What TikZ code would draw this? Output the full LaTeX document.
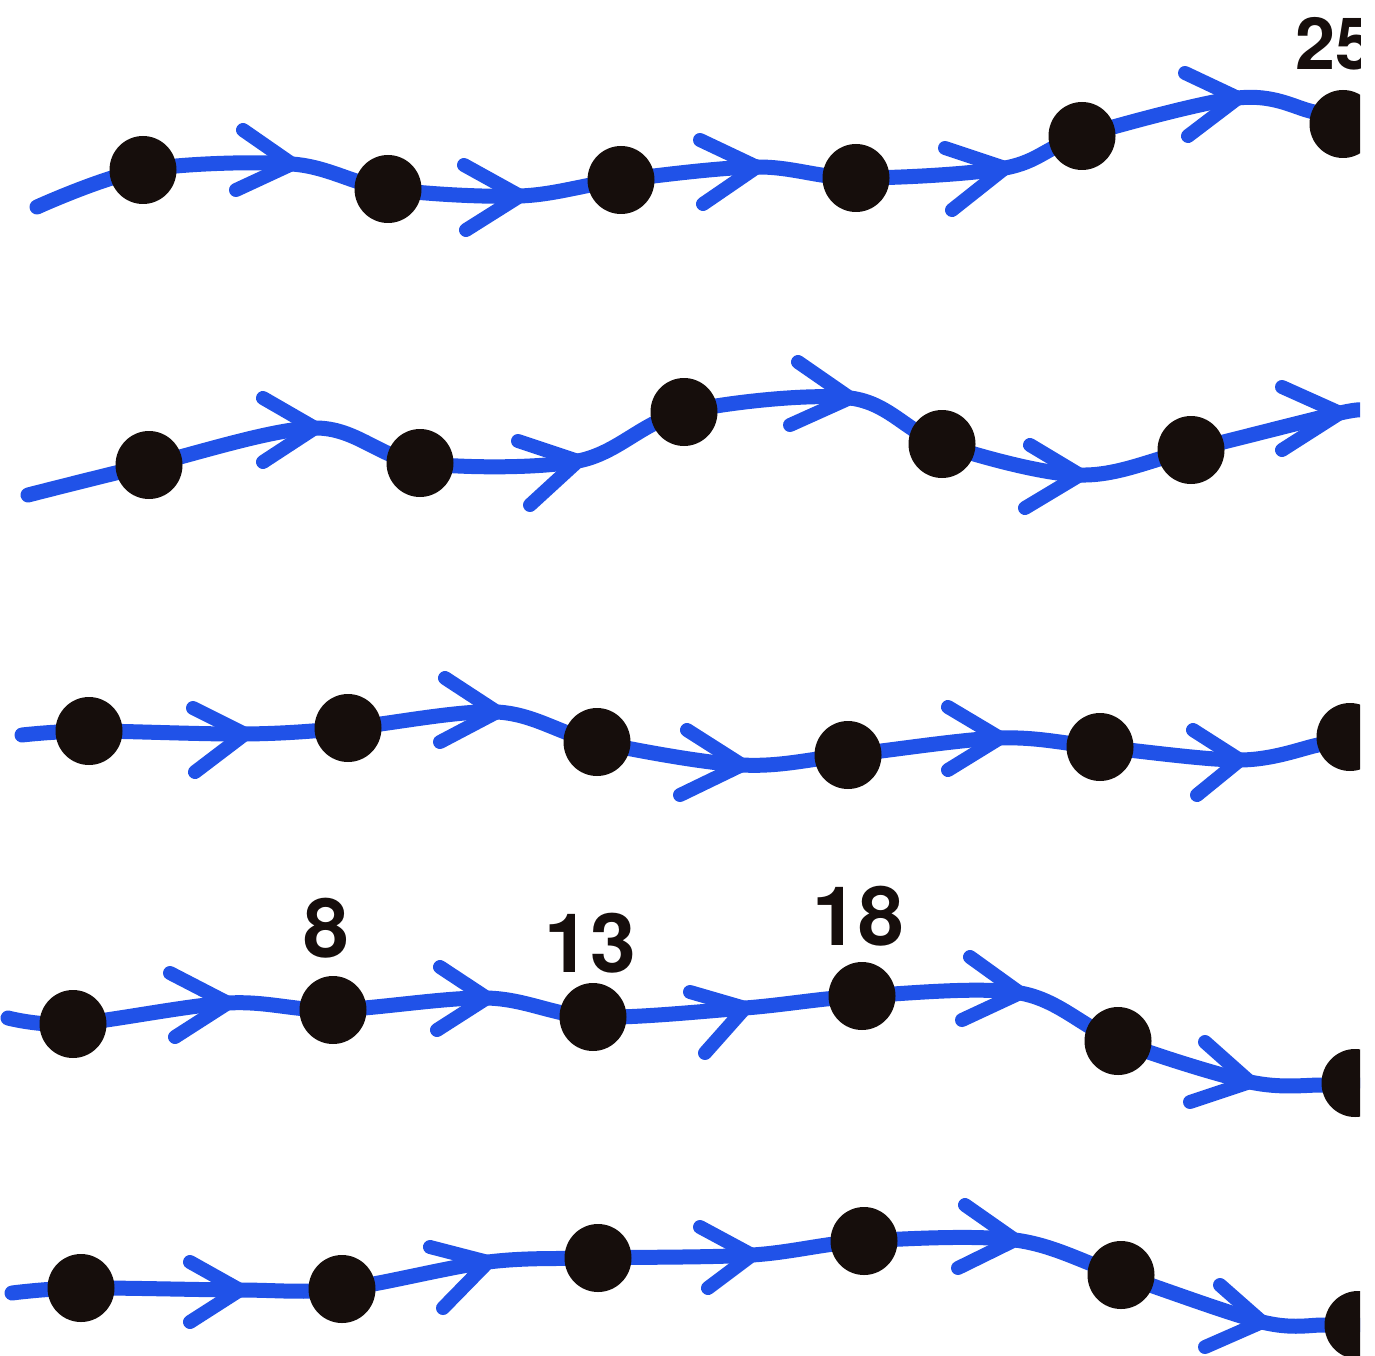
\documentclass[tikz,border=0pt]{standalone}
\usepackage{fontspec}
\setmainfont{TeX Gyre Heros}
\usetikzlibrary{shapes.geometric}
\definecolor{lineblue}{RGB}{32,82,232}
\definecolor{dotblack}{RGB}{22,14,12}
\tikzset{
  bline/.style={draw=lineblue, line width=15pt, line cap=round, line join=round},
  chevron/.style={draw=lineblue, line width=14pt, line cap=round, line join=round},
  dot/.style={ellipse, fill=dotblack, minimum width=67pt, minimum height=68pt, inner sep=0pt},
  lbl/.style={font=\fontsize{82}{82}\selectfont\bfseries, text=dotblack, inner sep=0pt},
  lblsmall/.style={font=\fontsize{72}{72}\selectfont\bfseries, text=dotblack, inner sep=0pt}
}
\begin{document}
\begin{tikzpicture}[x=1pt,y=-1pt]
\fill[white] (0,0) rectangle (1375,1356);
\useasboundingbox (0,0) rectangle (1375,1356);
\begin{scope}
\clip (0,0) rectangle (1360,1356);
% ---------- row 1 ----------
\coordinate (a0) at (37,207);
\coordinate (a1) at (143,170);
\coordinate (a2) at (388,189);
\coordinate (a3) at (621,180);
\coordinate (a4) at (856,178);
\coordinate (a5) at (1082,136);
\coordinate (a6e) at (1310,111);
\coordinate (a6) at (1343,124);
% ---------- row 2 ----------
\coordinate (b0) at (28,495);
\coordinate (b1) at (149,465);
\coordinate (b2) at (420,463);
\coordinate (b3) at (684,412);
\coordinate (b4) at (942,444);
\coordinate (b5) at (1191,450);
\coordinate (b6) at (1365,411);
% ---------- row 3 ----------
\coordinate (c0) at (22,735);
\coordinate (c1) at (89,731);
\coordinate (c2) at (348,728);
\coordinate (c3) at (597,742);
\coordinate (c4) at (848,755);
\coordinate (c5) at (1100,747);
\coordinate (c6e) at (1318,745);
\coordinate (c6) at (1350,737);
% ---------- row 4 ----------
\coordinate (d0) at (8,1018);
\coordinate (d1) at (73,1024);
\coordinate (d2) at (333,1010);
\coordinate (d3) at (593,1017);
\coordinate (d4) at (862,996);
\coordinate (d5) at (1118,1041);
\coordinate (d6e) at (1322,1085);
\coordinate (d6) at (1355,1083);
% ---------- row 5 ----------
\coordinate (e0) at (12,1293);
\coordinate (e1) at (81,1288);
\coordinate (e2) at (342,1289);
\coordinate (e3) at (598,1258);
\coordinate (e4) at (864,1241);
\coordinate (e5) at (1121,1275);
\coordinate (e6e) at (1325,1325);
\coordinate (e6) at (1358,1325);
% ---------- arrow chevrons: name/tip/upper arm/lower arm ----------
\foreach \n/\tx/\ty/\ux/\uy/\lx/\ly in {
  a1/292/164/243/130/236/190, a2/520/196/464/165/466/230, a3/757/167/700/140/703/204,
  a4/1005/168/945/148/952/210, a5/1238/98/1185/73/1188/136,
  b1/315/428/263/398/263/462, b2/578/461/518/441/530/505, b3/850/398/798/362/790/425,
  b4/1080/475/1030/445/1025/508, b5/1340/413/1282/387/1282/450,
  c1/245/734/193/708/195/772, c2/497/712/445/678/440/742, c3/742/765/687/730/680/795,
  c4/1000/738/948/707/948/770, c5/1240/760/1193/730/1197/795,
  d1/228/1003/170/973/175/1037, d2/487/998/440/967/437/1030, d3/745/1008/690/992/705/1053,
  d4/1020/993/970/957/962/1020, d5/1250/1082/1205/1042/1190/1102,
  e1/240/1290/190/1262/190/1322, e2/488/1262/430/1247/443/1308, e3/752/1255/700/1227/708/1288,
  e4/1015/1240/965/1205/958/1268, e5/1262/1322/1220/1285/1205/1347}
{
  \coordinate (t\n) at (\tx,\ty);
  \coordinate (u\n) at (\ux,\uy);
  \coordinate (l\n) at (\lx,\ly);
}
% ---------- lines ----------
\draw[bline] plot[smooth, tension=0.55] coordinates {(a0) (a1) (ta1) (a2) (ta2) (a3) (ta3) (a4) (ta4) (a5) (ta5) (a6e) (a6)};
\draw[bline] plot[smooth, tension=0.55] coordinates {(b0) (b1) (tb1) (b2) (tb2) (b3) (tb3) (b4) (tb4) (b5) (tb5) (b6)};
\draw[bline] plot[smooth, tension=0.55] coordinates {(c0) (c1) (tc1) (c2) (tc2) (c3) (tc3) (c4) (tc4) (c5) (tc5) (c6e) (c6)};
\draw[bline] plot[smooth, tension=0.55] coordinates {(d0) (d1) (td1) (d2) (td2) (d3) (td3) (d4) (td4) (d5) (td5) (d6e) (d6)};
\draw[bline] plot[smooth, tension=0.55] coordinates {(e0) (e1) (te1) (e2) (te2) (e3) (te3) (e4) (te4) (e5) (te5) (e6e) (e6)};
% ---------- chevrons ----------
\foreach \n in {a1,a2,a3,a4,a5,b1,b2,b3,b4,b5,c1,c2,c3,c4,c5,d1,d2,d3,d4,d5,e1,e2,e3,e4,e5}
  \draw[chevron] (u\n) -- (t\n) -- (l\n);
% ---------- dots ----------
\foreach \n in {a1,a2,a3,a4,a5,a6,b1,b2,b3,b4,b5,c1,c2,c3,c4,c5,c6,d1,d2,d3,d4,d5,d6,e1,e2,e3,e4,e5,e6}
  \node[dot] (N\n) at (\n) {};
% ---------- labels ----------
\node[lblsmall, anchor=base west] (L25) at (1295,70) {25};
\end{scope}
\node[lbl, anchor=base] (L8) at (326,957) {8};
\node[lbl, anchor=base] (L13) at (590,972) {13};
\node[lbl, anchor=base] (L18) at (858,945) {18};
\end{tikzpicture}
\end{document}
